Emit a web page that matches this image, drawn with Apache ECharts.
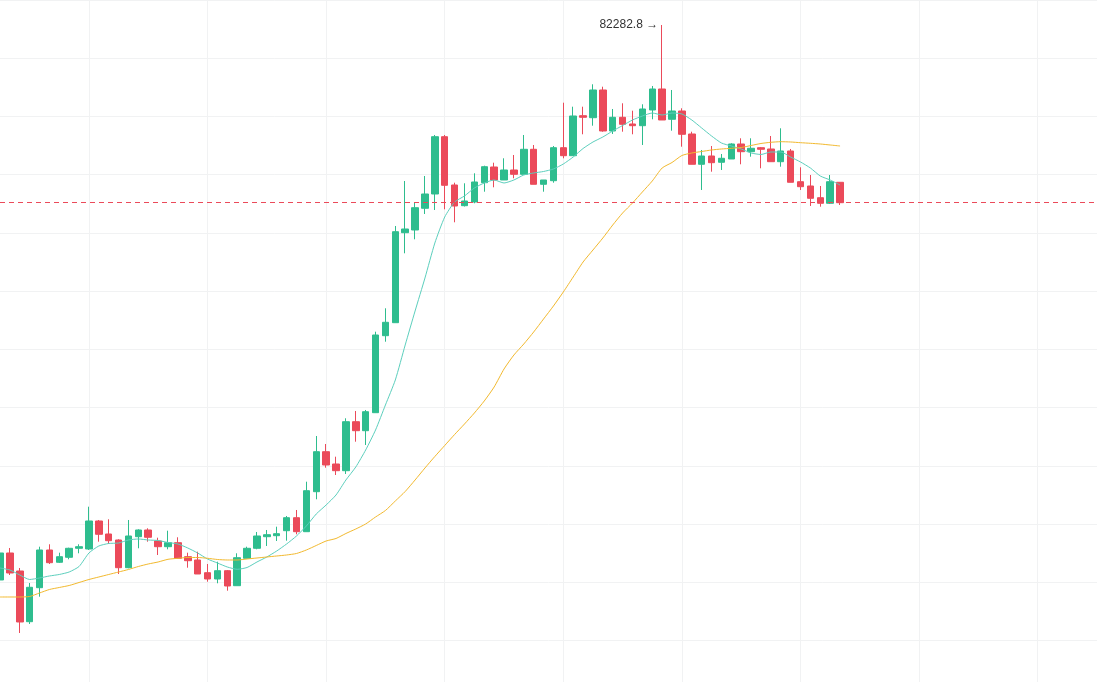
<!DOCTYPE html>
<html>
<head>
<meta charset="utf-8">
<script src="https://cdn.jsdelivr.net/npm/echarts@6.0.0/dist/echarts.min.js"></script>
<style>
  html, body { margin: 0; padding: 0; background: #ffffff; }
  #chart { width: 1097px; height: 682px; }
</style>
</head>
<body>
<div id="chart"></div>
<script>
// ---- data ----
const opens = [71183, 71723, 71363, 70349, 71029, 71783, 71537, 71637, 71817, 71803,
72363, 72103, 71983, 71429, 72049, 72183, 71963, 71849, 71929, 71649,
71583, 71329, 71203, 71369, 71069, 71617, 71817, 72049, 72069, 72169,
72429, 72149, 72949, 73749, 73503, 73369, 74349, 74169, 74529, 76069,
76329, 78129, 78183, 78617, 78903, 80049, 79083, 78669, 78743, 79129,
79443, 79183, 79383, 79297, 79797, 79097, 79169, 79829, 79669, 80469,
80429, 80983, 80163, 80437, 80303, 80269, 80583, 81003, 80397, 80563,
80103, 79497, 79663, 79537, 79603, 79903, 79749, 79829, 79803, 79549,
79763, 79149, 79063, 78829, 78717, 79137];

const closes = [71723, 71323, 70343, 71037, 71783, 71529, 71649, 71817, 71849, 72363,
72097, 71969, 71429, 72063, 72183, 72037, 71849, 71929, 71617, 71569,
71303, 71203, 71369, 71063, 71629, 71817, 72063, 72089, 72109, 72429,
72149, 72969, 73749, 73483, 73369, 74349, 74169, 74549, 76083, 76337,
78149, 78203, 78629, 78903, 80049, 79077, 78663, 78763, 79143, 79449,
79183, 79383, 79297, 79797, 79097, 79183, 79829, 79669, 80463, 80437,
80983, 80163, 80437, 80297, 80269, 80603, 81003, 80383, 80563, 80097,
79497, 79663, 79529, 79617, 79903, 79749, 79817, 79797, 79549, 79763,
79137, 79049, 78817, 78717, 79149, 78729];

const lows = [71123, 71283, 70123, 70303, 70849, 71503, 71523, 71597, 71717, 71783,
71949, 71903, 71303, 71417, 71817, 71949, 71683, 71797, 71617, 71429,
71303, 71149, 71117, 70969, 71069, 71613, 71797, 71863, 71963, 71969,
72097, 72149, 72797, 73429, 73283, 73303, 73949, 73883, 74529, 75949,
76329, 77717, 77997, 78503, 78583, 78597, 78337, 78653, 78717, 78949,
79037, 79183, 79217, 79297, 79097, 78949, 79129, 79617, 79669, 80097,
80269, 80149, 80103, 80149, 80097, 79883, 80397, 80383, 80169, 79849,
79497, 78983, 79349, 79383, 79603, 79497, 79649, 79417, 79549, 79449,
79137, 78983, 78663, 78649, 78703, 78683];

const highs = [71823, 71823, 71423, 71123, 71849, 71897, 71729, 71829, 71897, 72649,
72383, 72397, 71997, 72383, 72197, 72217, 72029, 72169, 72037, 71729,
71749, 71503, 71549, 71383, 71717, 71849, 72143, 72183, 72249, 72463,
72583, 73149, 74063, 73903, 73649, 74417, 74563, 74583, 76149, 76617,
78263, 79163, 78729, 79263, 80083, 80083, 79129, 79117, 79317, 79469,
79529, 79617, 79683, 80083, 79883, 79183, 79863, 80729, 80649, 80649,
81097, 81049, 80603, 80717, 80569, 80697, 81063, 82282.8, 80983, 80617,
80149, 79783, 79863, 79703, 79917, 80017, 80017, 79843, 80063, 80217,
79803, 79437, 79283, 79063, 79283, 79137];

const ma7 = [71423, 71383, 71283, 71193, 71223, 71263, 71293, 71343, 71453, 71723,
71863, 71913, 71923, 71983, 72003, 71983, 71973, 71933, 71903, 71823,
71723, 71603, 71523, 71443, 71397, 71433, 71543, 71643, 71763, 71903,
72063, 72263, 72503, 72683, 72883, 73183, 73443, 73783, 74183, 74683,
75183, 75883, 76563, 77223, 77923, 78443, 78743, 78863, 79023, 79123,
79183, 79123, 79183, 79283, 79323, 79353, 79403, 79503, 79643, 79813,
79943, 80043, 80163, 80273, 80383, 80463, 80523, 80483, 80523, 80503,
80383, 80223, 80063, 79923, 79863, 79803, 79723, 79693, 79743, 79743,
79643, 79543, 79423, 79263, 79183, 79083];

const ma25 = [70843, 70843, 70843, 70853, 70923, 70993, 71033, 71073, 71133, 71193,
71243, 71293, 71343, 71393, 71453, 71503, 71543, 71597, 71617, 71633,
71633, 71617, 71593, 71583, 71583, 71603, 71623, 71643, 71663, 71683,
71713, 71783, 71873, 71963, 72013, 72113, 72203, 72303, 72443, 72573,
72763, 72953, 73183, 73423, 73653, 73873, 74093, 74303, 74523, 74763,
75043, 75403, 75683, 75903, 76143, 76403, 76663, 76943, 77243, 77543,
77783, 78023, 78283, 78523, 78723, 78943, 79163, 79423, 79533, 79673,
79723, 79753, 79783, 79803, 79817, 79833, 79873, 79913, 79937, 79949,
79943, 79929, 79917, 79903, 79883, 79863];

// time slots on the x axis (hourly), including empty space to the right
const slotCount = 112;
const categories = [];
for (let i = 0; i < slotCount; i++) {
  const d = new Date(Date.UTC(2025, 2, 10, 0) + i * 3600 * 1000);
  categories.push(String(d.getUTCMonth() + 1).padStart(2, '0') + '-' +
    String(d.getUTCDate()).padStart(2, '0') + ' ' +
    String(d.getUTCHours()).padStart(2, '0') + ':00');
}

// ---- chart ----
const UP = '#2ebd8e';
const DOWN = '#eb4a5a';
const GRIDLINE = '#f1f2f3';

const kData = opens.map((o, i) => [o, closes[i], lows[i], highs[i]]);
const lastClose = closes[closes.length - 1];

const chart = echarts.init(document.getElementById('chart'), null, { renderer: 'canvas' });
chart.setOption({
  animation: false,
  backgroundColor: '#ffffff',
  grid: { left: -1, top: 0, width: 1098.9, height: 682, containLabel: false },
  xAxis: {
    type: 'category',
    data: categories,
    boundaryGap: false,
    axisLine: { show: false },
    axisTick: { show: false },
    axisLabel: { show: false },
    splitLine: {
      show: true,
      interval: (idx) => idx % 12 === 9,
      lineStyle: { color: GRIDLINE, width: 1 }
    }
  },
  yAxis: [
    {
      type: 'value',
      min: 69142.8,
      max: 82782.8,
      axisLine: { show: false },
      axisTick: { show: false },
      axisLabel: { show: false },
      splitLine: { show: false }
    },
    {
      // decorative horizontal grid rows
      type: 'value',
      inverse: true,
      min: 0,
      max: 11.714,
      interval: 1,
      axisLine: { show: false },
      axisTick: { show: false },
      axisLabel: { show: false },
      splitLine: { show: true, showMaxLine: false, lineStyle: { color: GRIDLINE, width: 1 } }
    }
  ],
  series: [
    {
      name: 'K',
      type: 'candlestick',
      data: kData,
      barWidth: 7,
      itemStyle: {
        color: UP,
        color0: DOWN,
        borderColor: UP,
        borderColor0: DOWN,
        borderWidth: 1
      },
      markPoint: {
        symbol: 'circle',
        symbolSize: 0,
        silent: true,
        data: [{ type: 'max', valueDim: 'highest', name: 'High' }],
        label: {
          show: true,
          position: 'left',
          distance: 4,
          formatter: (p) => p.value + ' \u2192',
          color: '#333333',
          fontSize: 12,
          fontFamily: 'Arial, Liberation Sans, sans-serif'
        }
      },
      markLine: {
        silent: true,
        symbol: ['none', 'none'],
        label: { show: false },
        lineStyle: { color: DOWN, width: 1, type: [5, 4] },
        data: [{ yAxis: lastClose }]
      }
    },
    {
      name: 'MA7',
      type: 'line',
      data: ma7,
      symbol: 'none',
      smooth: 0.2,
      lineStyle: { color: '#5ccfbd', width: 1 },
      z: 3
    },
    {
      name: 'MA25',
      type: 'line',
      data: ma25,
      symbol: 'none',
      smooth: 0.2,
      lineStyle: { color: '#f2b92e', width: 1 },
      z: 3
    }
  ]
});
</script>
</body>
</html>
